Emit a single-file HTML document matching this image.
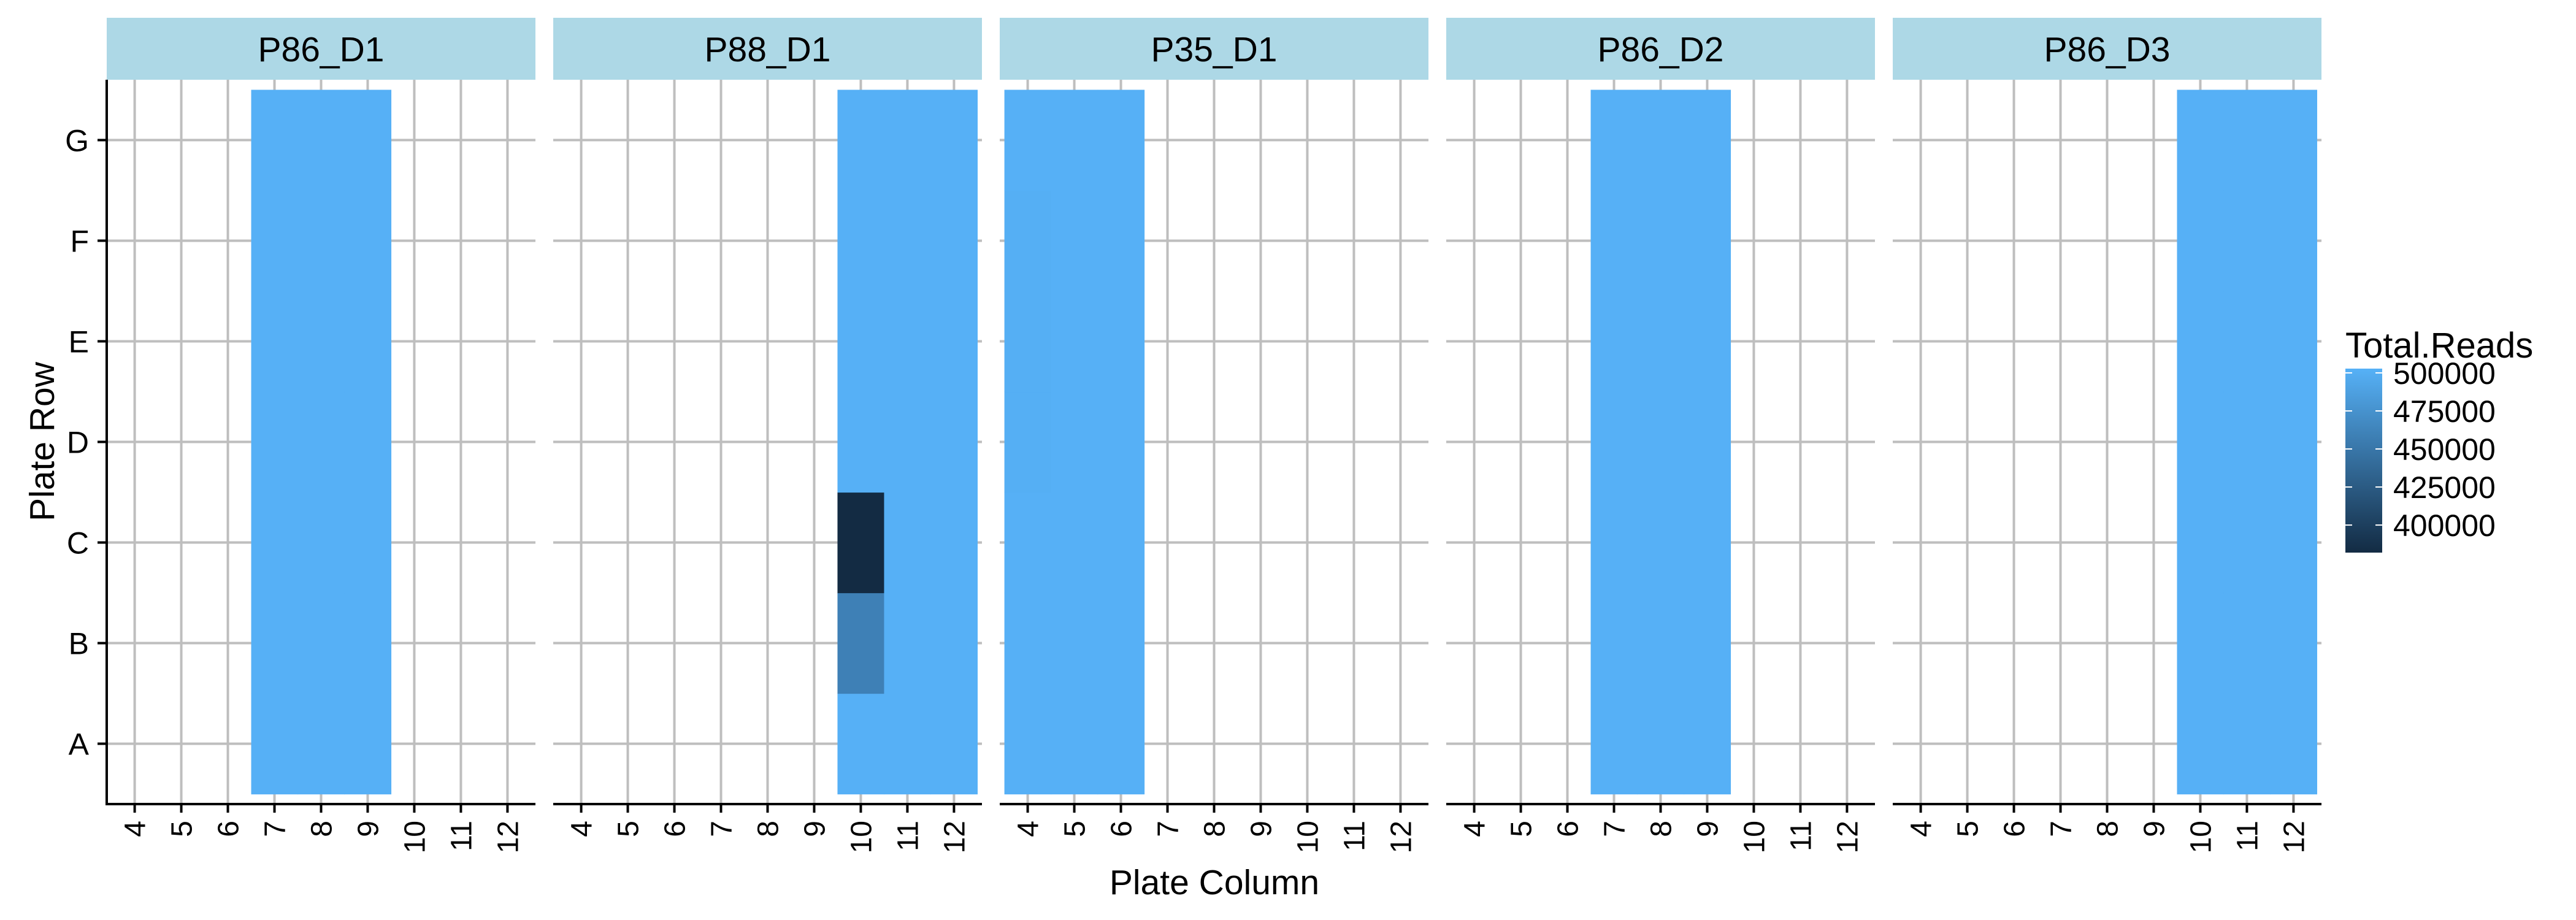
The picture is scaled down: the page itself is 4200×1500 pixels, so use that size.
<!DOCTYPE html>
<html><head><meta charset="utf-8"><style>
html,body{margin:0;padding:0;background:#fff;}
svg{display:block;font-family:"Liberation Sans",Arial,sans-serif;}
</style></head><body>
<svg id="chart" width="4200" height="1500" viewBox="0 0 4200 1500" xmlns="http://www.w3.org/2000/svg">
<defs><linearGradient id="cbgrad" x1="0" y1="1" x2="0" y2="0">
<stop offset="0" stop-color="#132B43"/><stop offset="1" stop-color="#56B1F7"/></linearGradient></defs>
<g id="panels"></g>
<text x="1980" y="1458" font-size="57" text-anchor="middle">Plate Column</text>
<text x="0" y="0" font-size="57" text-anchor="middle" transform="translate(88,720) rotate(-90)">Plate Row</text>
<g>
<text x="3824" y="583" font-size="58">Total.Reads</text>
<rect x="3824" y="601" width="60" height="300" fill="url(#cbgrad)"/>
<g id="legendTicks"></g>
</g>
</svg>
<script>
const facets = ["P86_D1","P88_D1","P35_D1","P86_D2","P86_D3"];
const facetCols = [[7,8,9],[10,11,12],[4,5,6],[7,8,9],[10,11,12]];
const rowLabels = ["A","B","C","D","E","F","G"];
const colTicks = [4,5,6,7,8,9,10,11,12];
const legendBreaks = [500000,475000,450000,425000,400000];
// reads[facet][colIndex][rowIndex A..G]
const readsP86D1 = [[502000,502000,502000,502000,502000,502000,502000],[502000,502000,502000,502000,502000,502000,502000],[502000,502000,502000,502000,502000,502000,502000]];
const readsP88D1 = [[502000,459000,382000,502000,502000,502000,502000],[502000,502000,502000,502000,502000,502000,502000],[502000,502000,502000,502000,502000,502000,502000]];
const readsP35D1 = [[502000,502000,502000,501000,501000,501000,502000],[502000,502000,502000,502000,502000,502000,502000],[502000,502000,502000,502000,502000,502000,502000]];
const readsP86D2 = [[502000,502000,502000,502000,502000,502000,502000],[502000,502000,502000,502000,502000,502000,502000],[502000,502000,502000,502000,502000,502000,502000]];
const readsP86D3 = [[502000,502000,502000,502000,502000,502000,502000],[502000,502000,502000,502000,502000,502000,502000],[502000,502000,502000,502000,502000,502000,502000]];
const allReads = [readsP86D1,readsP88D1,readsP35D1,readsP86D2,readsP86D3];

const NS="http://www.w3.org/2000/svg";
const P0=174, PW=699, PITCH=728, TOP=130, BOT=1311;
const XMIN=3.4, XMAX=12.6, YMIN=0.4, YMAX=7.6;
const CMIN=381900, CMAX=502800;
function xs(p,v){return P0+p*PITCH+(v-XMIN)/(XMAX-XMIN)*PW;}
function ys(v){return BOT-(v-YMIN)/(YMAX-YMIN)*(BOT-TOP);}
function color(v){
  let t=Math.max(0,Math.min(1,(v-CMIN)/(CMAX-CMIN)));
  const a=[0x13,0x2B,0x43], b=[0x56,0xB1,0xF7];
  return "rgb("+a.map((c,i)=>Math.round(c+(b[i]-c)*t)).join(",")+")";
}
function el(tag,attrs,parent){const e=document.createElementNS(NS,tag);for(const k in attrs)e.setAttribute(k,attrs[k]);parent.appendChild(e);return e;}
const root=document.getElementById("panels");
facets.forEach((f,p)=>{
  const g=el("g",{},root);
  
  
  const left=P0+p*PITCH;
  const strip=el("rect",{x:left,y:29,width:PW,height:101,fill:"#ADD8E6"},g);
  
  
  const st=el("text",{x:left+PW/2,y:100,"font-size":57,"text-anchor":"middle"},g);
  st.textContent=f;
  
  
  colTicks.forEach(c=>{const l=el("line",{x1:xs(p,c),x2:xs(p,c),y1:TOP,y2:BOT,stroke:"#BEBEBE","stroke-width":4},g);
    
    });
  rowLabels.forEach((r,i)=>{const l=el("line",{x1:left,x2:left+PW,y1:ys(i+1),y2:ys(i+1),stroke:"#BEBEBE","stroke-width":4},g);
    
    });
  const cols=facetCols[p], data=allReads[p];
  cols.forEach((c,ci)=>{data[ci].forEach((v,ri)=>{
    const x1=xs(p,c-0.5), x2=xs(p,c+0.5), y1=ys(ri+1.5), y2=ys(ri+0.5);
    const r=el("rect",{x:x1,y:y1,width:x2-x1+0.6,height:y2-y1+0.6,fill:color(v)},g);
    
    
  });});
  const ax=el("line",{x1:left,x2:left+PW,y1:BOT,y2:BOT,stroke:"#000","stroke-width":4},g);
  
  
  colTicks.forEach(c=>{
    const tk=el("line",{x1:xs(p,c),x2:xs(p,c),y1:BOT,y2:BOT+14,stroke:"#000","stroke-width":4},g);
    
    
    const t=el("text",{x:0,y:0,"font-size":48,"text-anchor":"end",transform:"translate("+(xs(p,c)+17)+","+(BOT+27)+") rotate(-90)"},g);
    t.textContent=c;
    
    
  });
  if(p===0){
    const ay=el("line",{x1:left,x2:left,y1:TOP,y2:BOT+2,stroke:"#000","stroke-width":4},g);
    
    
    rowLabels.forEach((r,i)=>{
      const tk=el("line",{x1:left-15,x2:left,y1:ys(i+1),y2:ys(i+1),stroke:"#000","stroke-width":4},g);
      
      
      const t=el("text",{x:left-29,y:ys(i+1)+18,"font-size":50,"text-anchor":"end"},g);
      t.textContent=r;
      
      
    });
  }
});
const lt=document.getElementById("legendTicks");
legendBreaks.forEach(b=>{
  const y=901-(b-CMIN)/(CMAX-CMIN)*300;
  const a=el("line",{x1:3824,x2:3835,y1:y,y2:y,stroke:"#fff","stroke-width":2},lt);
  
  
  const c=el("line",{x1:3873,x2:3884,y1:y,y2:y,stroke:"#fff","stroke-width":2},lt);
  
  
  const t=el("text",{x:3902,y:y+18,"font-size":50},lt);
  t.textContent=b;
  
  
});
</script>
</body></html>
